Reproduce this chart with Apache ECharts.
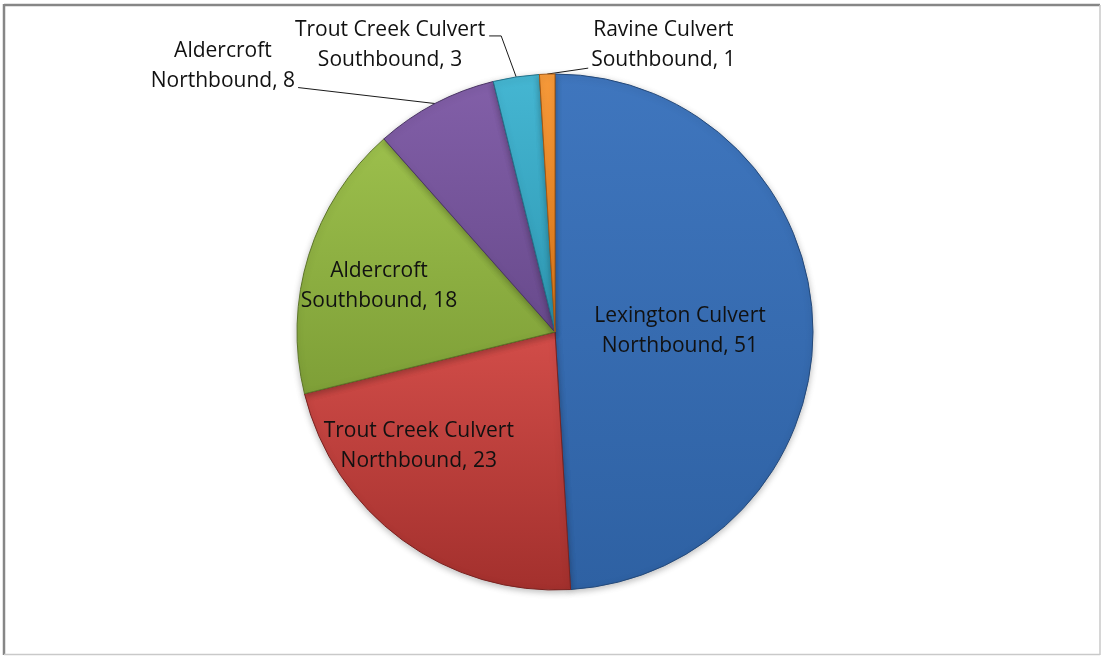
<!DOCTYPE html>
<html>
<head>
<meta charset="utf-8">
<script src="https://cdn.jsdelivr.net/npm/echarts@6/dist/echarts.min.js"></script>
<style>
  html, body { margin: 0; padding: 0; background: #ffffff; }
  #chart { width: 1102px; height: 656px; }
</style>
</head>
<body>
<div id="chart"></div>
<script>
// Culvert crossings counted at each site and direction
const sites = [
  'Lexington Culvert',
  'Trout Creek Culvert',
  'Aldercroft',
  'Aldercroft',
  'Trout Creek Culvert',
  'Ravine Culvert'
];
const directions = [
  'Northbound',
  'Northbound',
  'Southbound',
  'Northbound',
  'Southbound',
  'Southbound'
];
const counts = [51, 23, 18, 8, 3, 1];

// Slice fills: lighter at the top, darker at the bottom for a bevelled look
const fills = [
  ['#3f76be', '#2e61a3'],
  ['#d24d49', '#a3302d'],
  ['#9cbf4c', '#7e9f37'],
  ['#825fa8', '#684a8c'],
  ['#45b6d2', '#2e98b3'],
  ['#f79a3a', '#e07816']
];
const edges = ['#24497a', '#7a2321', '#5d7628', '#4b3566', '#22728a', '#a8580f'];

// Big slices carry their labels inside; small ones get leader lines
const insideCount = 3;
const insideShift = [[-7, 3], [-58, 8], [-50, -7]];

const data = counts.map(function (v, i) {
  return {
    name: sites[i] + '\n' + directions[i],
    value: v,
    itemStyle: {
      color: {
        type: 'linear', x: 0, y: 0, x2: 0, y2: 1,
        colorStops: [
          { offset: 0, color: fills[i][0] },
          { offset: 1, color: fills[i][1] }
        ]
      },
      borderColor: edges[i],
      borderWidth: 1
    },
    label: { position: i < insideCount ? 'inside' : 'outside' }
  };
});

const chart = echarts.init(document.getElementById('chart'), null, { renderer: 'canvas' });

chart.setOption({
  animation: false,
  backgroundColor: '#ffffff',
  graphic: [
    // chart frame: darker top/left, lighter bottom/right
    { type: 'line', shape: { x1: 4, y1: 5, x2: 1100, y2: 5 }, style: { stroke: '#868686', lineWidth: 2.5 }, z: 10 },
    { type: 'line', shape: { x1: 4, y1: 4, x2: 4, y2: 655 }, style: { stroke: '#868686', lineWidth: 2.5 }, z: 10 },
    { type: 'line', shape: { x1: 1100, y1: 5, x2: 1100, y2: 655 }, style: { stroke: '#c9c9c9', lineWidth: 1.5 }, z: 10 },
    { type: 'line', shape: { x1: 4, y1: 654.5, x2: 1100, y2: 654.5 }, style: { stroke: '#c9c9c9', lineWidth: 1.5 }, z: 10 }
  ],
  series: [{
    type: 'pie',
    center: [555, 332],
    radius: 258,
    startAngle: 90,
    clockwise: true,
    avoidLabelOverlap: false,
    minAngle: 0,
    itemStyle: {
      shadowBlur: 6,
      shadowOffsetY: 2,
      shadowColor: 'rgba(0,0,0,0.25)'
    },
    emphasis: { disabled: true },
    label: {
      show: true,
      formatter: function (p) { return p.name + ', ' + p.value; },
      fontFamily: 'Open Sans',
      fontSize: 21,
      lineHeight: 30,
      color: '#111111',
      align: 'center'
    },
    labelLine: {
      show: true,
      lineStyle: { color: '#1a1a1a', width: 1 }
    },
    labelLayout: function (p) {
      const i = p.dataIndex;
      if (i < insideCount) {
        return { dx: insideShift[i][0], dy: insideShift[i][1] };
      }
      const a = p.labelLinePoints[0];
      const w = p.labelRect.width;
      if (i === 3) {
        return {
          x: a[0] - 140 - w / 2, y: a[1] - 8,
          align: 'center', verticalAlign: 'bottom',
          labelLinePoints: [[a[0], a[1]], [a[0] - 137, a[1] - 16]]
        };
      }
      if (i === 4) {
        return {
          x: a[0] - 31 - w / 2, y: a[1] - 32,
          align: 'center', verticalAlign: 'middle',
          labelLinePoints: [[a[0], a[1]], [a[0] - 15, a[1] - 41], [a[0] - 27, a[1] - 41]]
        };
      }
      return {
        x: a[0] + 44 + w / 2, y: a[1] - 29,
        align: 'center', verticalAlign: 'middle',
        labelLinePoints: [[a[0], a[1]], [a[0] + 41, a[1] - 6]]
      };
    },
    data: data
  }]
});
</script>
</body>
</html>
